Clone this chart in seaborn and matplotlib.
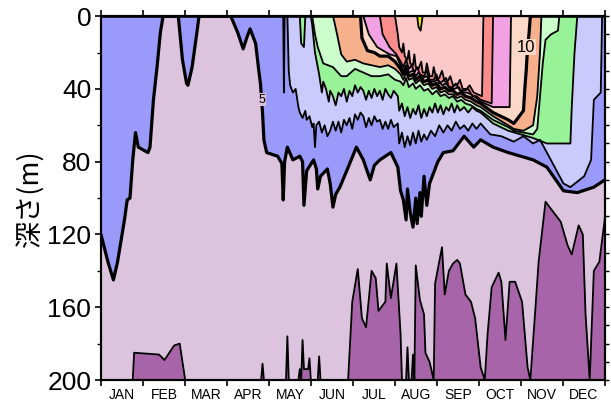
import numpy as np
import matplotlib
matplotlib.use('Agg')
import matplotlib.pyplot as plt
import seaborn as sns

# isotherm depths (day of year, depth m), 4..14 degC
iso4 = [(0, 200), (23, 200), (24, 185), (42, 186), (46, 189), (53, 181), (57, 180), (59, 190), (61, 200),
        (116, 200), (117, 191), (118, 200), (134, 200), (135, 176), (136, 200), (143, 200), (144, 194),
        (145, 200), (146, 178), (147, 194), (150, 194), (151, 188), (152, 200), (157, 200), (158, 187),
        (159, 200), (179, 200), (182, 157), (186, 139), (189, 166), (192, 171), (196, 140), (199, 144),
        (201, 162), (206, 157), (207, 136), (210, 155), (214, 136), (217, 175), (218, 200), (221, 200),
        (222, 182), (223, 200), (225, 200), (226, 186), (227, 200), (228, 137), (231, 156), (234, 164),
        (235, 185), (238, 190), (241, 200), (242, 147), (247, 127), (249, 153), (252, 140), (255, 136),
        (258, 134), (260, 136), (264, 153), (268, 157), (271, 166), (275, 193), (278, 200), (280, 175),
        (283, 149), (288, 141), (290, 146), (293, 178), (296, 146), (300, 146), (305, 157), (309, 193),
        (311, 200), (315, 157), (317, 135), (322, 102), (327, 107), (333, 113), (338, 126), (341, 131),
        (346, 115), (349, 120), (351, 164), (354, 200), (357, 140), (361, 135), (365, 111)]
iso5 = [(0, 120), (5, 135), (9, 145), (12, 135), (17, 112), (19, 101), (21, 100), (23, 79), (25, 64),
        (27, 72), (34, 75), (35.5, 72), (38, 46), (40.6, 28), (43, 9), (45, 0), (56, 0), (59, 24), (62, 37),
        (63, 38), (66, 28), (70, 6), (71, 0), (94, 0), (99, 9), (103, 18), (106, 11), (108, 7), (112, 15),
        (114, 28), (115.5, 37), (117, 53), (118, 68), (120, 75), (128, 77), (131, 81), (132, 101), (133, 80),
        (135, 72), (139, 79), (144, 77), (146, 80), (147, 104), (149, 85), (154, 79), (156, 84), (157, 95),
        (159, 88), (164, 84), (166, 92), (168, 105), (170, 98), (173, 94), (178, 85), (185, 72), (190, 79),
        (195, 90), (198, 82), (202, 79), (210, 75), (215, 83), (217, 96), (219, 101), (221, 112), (222, 95),
        (224, 108), (226, 116), (228, 100), (229, 114), (231, 97), (232, 110), (234, 88), (236, 104),
        (238, 92), (241, 86), (244, 80), (248, 75), (255, 74), (263, 66), (270, 72), (275, 68), (284, 72),
        (295, 75), (304, 77), (313, 79), (323, 83), (335, 96), (345, 97), (357, 94), (365, 90)]
iso6 = [(0, 0), (132, 0), (132.5, 42), (133, 0), (135, 0), (136, 30), (137, 38), (139, 42), (141, 40),
        (143, 50), (144, 53), (146, 56), (148, 52), (149, 57), (151, 55), (153, 61), (154, 59), (155, 72),
        (156, 60), (158, 58), (160, 64), (162, 60), (164, 66), (166, 63), (168, 58), (170, 63), (172, 58),
        (174, 64), (176, 57), (178, 60), (180, 56), (182, 62), (184, 54), (186, 57), (188, 53), (190, 55),
        (192, 61), (194, 56), (196, 60), (198, 55), (200, 58), (202, 57), (204, 62), (206, 58), (208, 62),
        (210, 57), (212, 61), (215, 59), (216, 70), (218, 64), (220, 72), (222, 66), (224, 71), (226, 64),
        (228, 70), (230, 63), (232, 69), (234, 65), (236, 68), (239, 63), (242, 66), (245, 60), (248, 64),
        (251, 60), (254, 63), (257, 58), (260, 62), (263, 60), (266, 63), (269, 59), (272, 62), (275, 59),
        (282, 65), (290, 66), (299, 69), (306, 66), (313, 70), (318, 68), (323, 75), (335, 92), (340, 94),
        (350, 88), (355, 79), (357, 46), (362, 42), (363, 0), (365, 0)]
iso7 = [(0, 0), (144, 0), (145, 15), (147, 17), (148, 0), (152, 0), (153, 5), (155, 20), (158, 32),
        (160, 42), (161, 36), (163, 40), (165, 47), (166, 41), (168, 44), (170, 49), (172, 42), (174, 44),
        (176, 40), (178, 47), (180, 41), (182, 44), (184, 38), (186, 42), (188, 39), (190, 41), (192, 46),
        (194, 41), (196, 45), (198, 40), (200, 44), (202, 41), (204, 46), (206, 40), (208, 43), (210, 45),
        (212, 41), (215, 44), (216, 52), (218, 48), (220, 55), (222, 50), (224, 56), (226, 51), (228, 54),
        (230, 49), (232, 56), (234, 51), (236, 55), (238, 50), (240, 53), (242, 48), (244, 53), (246, 49),
        (248, 54), (250, 50), (252, 52), (254, 48), (256, 53), (258, 49), (260, 52), (263, 50), (266, 53),
        (269, 50), (272, 52), (275, 53), (284, 59), (295, 63), (304, 65), (313, 67), (323, 70), (340, 70),
        (341, 50), (343, 20), (345, 0), (365, 0)]
iso8 = [(0, 0), (153, 0), (155, 10), (157, 17), (161, 26), (168, 28), (174, 33), (178, 33), (184, 29),
        (190, 31), (196, 33), (202, 33), (208, 32), (213, 35), (217, 36), (219, 38), (221, 34), (223, 39),
        (226, 37), (228, 40), (231, 38), (234, 41), (237, 40), (240, 43), (243, 41), (246, 44), (249, 43),
        (252, 45), (255, 44), (258, 47), (261, 46), (264, 48), (268, 49), (272, 51), (275, 52), (284, 57),
        (295, 61), (299, 63), (313, 65), (316, 62), (318, 44), (320, 26), (322, 13), (326, 10), (331, 8),
        (332, 0), (365, 0)]
iso9 = [(0, 0), (168, 0), (169, 3), (171, 10), (174, 21), (178, 25), (184, 24), (190, 26), (196, 27),
        (202, 28), (208, 27), (213, 29), (217, 32), (219, 35), (221, 31), (223, 35), (226, 34), (228, 37),
        (231, 35), (234, 38), (237, 37), (240, 40), (243, 39), (246, 42), (249, 41), (252, 43), (255, 43),
        (258, 45), (261, 44), (264, 46), (268, 47), (272, 49), (275, 50), (284, 55), (295, 60), (299, 62),
        (306, 63), (313, 60), (316, 44), (318, 20), (319, 0), (365, 0)]
iso10 = [(0, 0), (188, 0), (189, 12), (193, 19), (198, 20), (202, 22), (208, 22), (213, 25), (217, 29),
         (219, 32), (221, 29), (223, 33), (226, 32), (228, 35), (231, 33), (234, 36), (237, 35), (240, 38),
         (243, 37), (246, 40), (249, 39), (252, 41), (255, 41), (258, 43), (261, 42), (264, 44), (268, 45),
         (272, 47), (275, 48), (284, 53), (295, 57), (299, 59), (306, 52), (307, 40), (308, 30), (309, 17),
         (310, 10), (311, 0), (365, 0)]
iso11 = [(0, 0), (190, 0), (194, 10), (200, 17), (209, 21), (214, 22), (217, 27), (219, 30), (221, 27),
         (223, 31), (226, 30), (228, 33), (230, 31), (233, 34), (236, 33), (238, 36), (241, 36), (244, 35),
         (247, 38), (250, 37), (253, 40), (256, 40), (259, 39), (262, 42), (265, 42), (268, 43), (272, 45),
         (275, 47), (284, 50), (290, 50), (296, 50), (297, 0), (365, 0)]
iso12 = [(0, 0), (202, 0), (204, 10), (209, 17), (214, 21), (217, 25), (219, 28), (221, 24), (223, 29),
         (225, 27), (227, 31), (229, 28), (231, 32), (234, 33), (236, 30), (238, 35), (241, 35), (243, 32),
         (245, 37), (247, 36), (250, 34), (252, 39), (255, 39), (257, 37), (260, 41), (263, 41), (266, 40),
         (269, 44), (272, 44), (275, 46), (279, 47), (283, 48), (284, 0), (365, 0)]
iso13 = [(0, 0), (213, 0), (215, 10), (216, 17), (218, 20), (219, 15), (220, 22), (222, 24), (223, 19),
         (224, 26), (226, 27), (227, 21), (228, 28), (230, 29), (232, 25), (233, 31), (235, 31), (236, 26),
         (238, 33), (240, 33), (241, 28), (243, 35), (245, 34), (247, 30), (249, 36), (251, 36), (253, 33),
         (255, 38), (258, 38), (260, 35), (262, 40), (265, 40), (267, 38), (270, 42), (273, 43), (276, 44),
         (277, 0), (365, 0)]
iso14 = [(0, 0), (229, 0), (230, 6), (231.5, 8), (233, 0), (365, 0)]

months = ['JAN', 'FEB', 'MAR', 'APR', 'MAY', 'JUN', 'JUL', 'AUG', 'SEP', 'OCT', 'NOV', 'DEC']
depth_ticks = [0, 40, 80, 120, 160, 200]

isotherms = [iso4, iso5, iso6, iso7, iso8, iso9, iso10, iso11, iso12, iso13, iso14]
# colour of the water warmer than each isotherm
band_colors = ['#DCC4DE', '#9A9AFA', '#CACAFC', '#98F298', '#CCFCCC', '#F6B08C',
               '#FCD8C8', '#F2A2E2', '#FA8C8C', '#FCC8C8', '#F2EC00']
cold_color = '#A864A8'

sns.set_style('ticks')
plt.rcParams['font.family'] = ['Liberation Sans', 'DejaVu Sans']

fig, ax = plt.subplots(figsize=(6.11, 4.03), dpi=100)
fig.subplots_adjust(left=0.1653, right=0.990, bottom=0.057, top=0.960)
ax.set_facecolor(cold_color)

for iso, col in zip(isotherms, band_colors):
    d, z = np.array(iso, dtype=float).T
    ax.fill_between(d, 0, z, color=col, lw=0)

for i, iso in enumerate(isotherms):
    d, z = np.array(iso, dtype=float).T
    lw = 2.3 if i in (1, 6) else 1.3
    sns.lineplot(x=d, y=z, ax=ax, color='black', lw=lw, sort=False, estimator=None)

# contour labels
ax.text(116.5, 46, '5', fontsize=9, ha='center', va='center', color='black',
        bbox=dict(facecolor='#DCC4DE', edgecolor='none', pad=0.3))
ax.text(308, 17, '10', fontsize=12, ha='center', va='center', color='black',
        bbox=dict(facecolor='#FCD8C8', edgecolor='none', pad=0.3))

ax.set_xlim(0, 365)
ax.set_ylim(200, 0)

bounds = np.arange(13) * 365 / 12
ax.set_xticks(bounds)
ax.set_xticklabels([])
ax.set_xticks(bounds[:-1] + 365 / 24, minor=True)
ax.set_xticklabels(months, minor=True, fontsize=10, color='black')
ax.tick_params(axis='x', which='minor', length=0, pad=6)
ax.tick_params(axis='x', which='major', top=True, direction='out', length=4, width=1.2, color='black')

ax.set_yticks(depth_ticks)
ax.set_yticklabels([str(t) for t in depth_ticks], fontsize=19, color='black')
ax.set_yticks(np.arange(20, 200, 40), minor=True)
ax.tick_params(axis='y', which='major', direction='out', length=4, width=1.2, pad=3, color='black')
ax.tick_params(axis='y', which='minor', direction='out', length=3, width=1.0, color='black')

ax2 = ax.twinx()
ax2.set_ylim(200, 0)
ax2.set_yticks(np.arange(0, 201, 10))
ax2.set_yticklabels([])
ax2.tick_params(axis='y', direction='out', length=3, width=1.0, color='black')

ax.set_ylabel('深さ(m)', fontsize=19.5, family=['Noto Sans CJK JP', 'DejaVu Sans'],
              labelpad=2, color='black')
ax.set_xlabel('')

for a in (ax, ax2):
    for s in a.spines.values():
        s.set_linewidth(1.5)
        s.set_color('black')

fig.savefig('out.png', dpi=100)
